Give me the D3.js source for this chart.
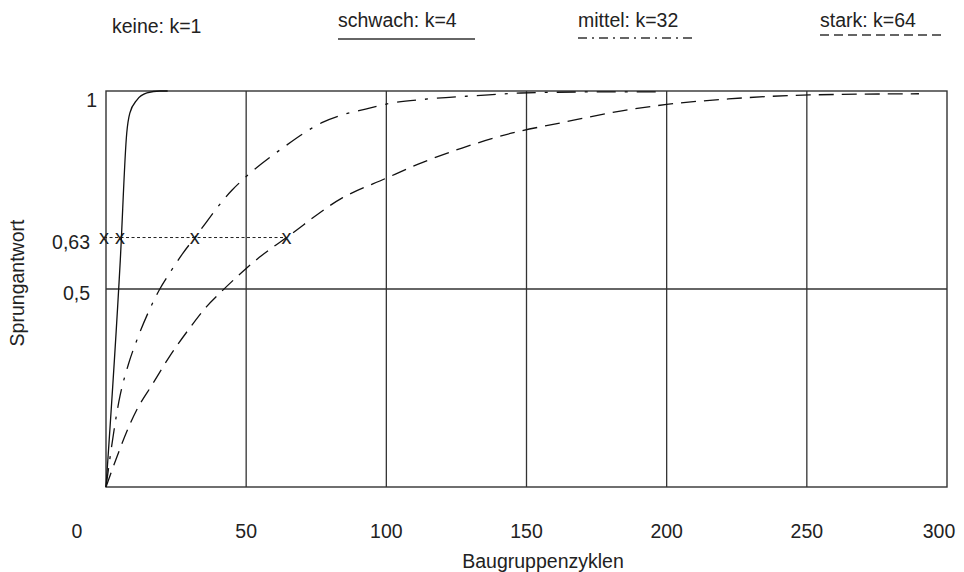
<!DOCTYPE html>
<html lang="de">
<head>
  <meta charset="UTF-8">
  <title>Sprungantwort</title>
  <style>
    body { margin: 0; background: #fff; }
    svg text { font-family: "Liberation Sans", Arial, sans-serif; fill: #222; }
  </style>
</head>
<body>
<div class="chart"></div>
<script src="https://cdn.jsdelivr.net/npm/d3@7/dist/d3.min.js"></script>
<script>
  // series: [Baugruppenzyklen, Sprungantwort]
  const schwach = [[0, 0], [5.1, 0.573], [7.4, 0.894], [8.5, 0.944], [11, 0.977], [14.6, 0.995], [19.2, 1], [22, 1]];
  const mittel = [[0, 0], [5, 0.23], [8, 0.31], [11.5, 0.38], [16, 0.455], [19.2, 0.5], [22.7, 0.54], [27.4, 0.59],
    [31.7, 0.63], [45, 0.75], [49.4, 0.78], [63, 0.856], [77, 0.92], [94, 0.957], [100, 0.967], [115, 0.98],
    [136.5, 0.99], [148, 0.995], [182, 0.998], [199, 0.998]];
  const stark = [[0, 0], [10.9, 0.194], [16.8, 0.262], [22.7, 0.33], [29.3, 0.396], [35.8, 0.455], [41.1, 0.493],
    [49.4, 0.548], [54.7, 0.58], [64.4, 0.63], [84.3, 0.73], [100, 0.78], [113, 0.82], [127, 0.856], [145, 0.894],
    [162.5, 0.92], [184, 0.95], [200, 0.966], [222, 0.98], [251, 0.99], [290, 0.993]];

  const legendNames = ["keine: k=1", "schwach: k=4", "mittel: k=32", "stark: k=64"];
  const markerX = [-0.7, 5, 31.7, 64.4];   // where the "x" marks sit on the 0,63 line
  const markerY = 0.63;
  const xTicks = [0, 50, 100, 150, 200, 250, 300];
  const xGrid = [50, 100, 150, 200, 250];
  const yTicks = [0.5, 0.63, 1];
  const yTickLabels = ["0,5", "0,63", "1"];

  const width = 964, height = 572;
  const plotLeft = 106, plotRight = 947, plotTop = 91, plotBottom = 487;
  const fontSize = 19.5;

  const x = d3.scaleLinear().domain([0, 300]).range([plotLeft, plotRight]);
  const y = d3.scaleLinear().domain([0, 1]).range([plotBottom, plotTop]);

  const svg = d3.select(".chart").append("svg")
    .attr("width", width)
    .attr("height", height);

  // grid
  svg.append("g")
    .selectAll("line")
    .data(xGrid)
    .enter()
    .append("line")
    .attr("x1", d => x(d)).attr("x2", d => x(d))
    .attr("y1", plotTop).attr("y2", plotBottom)
    .attr("stroke", "#333").attr("stroke-width", 1.3);

  svg.append("line")
    .attr("x1", plotLeft).attr("x2", plotRight)
    .attr("y1", y(0.5)).attr("y2", y(0.5))
    .attr("stroke", "#333").attr("stroke-width", 1.3);

  svg.append("rect")
    .attr("x", plotLeft).attr("y", plotTop)
    .attr("width", plotRight - plotLeft).attr("height", plotBottom - plotTop)
    .attr("fill", "none").attr("stroke", "#333").attr("stroke-width", 1.4);

  // 0,63 dotted line with markers
  svg.append("line")
    .attr("x1", x(d3.min(markerX))).attr("x2", x(d3.max(markerX)))
    .attr("y1", y(markerY)).attr("y2", y(markerY))
    .attr("stroke", "#222").attr("stroke-width", 1)
    .attr("stroke-dasharray", "3,2.5");

  svg.append("g")
    .selectAll("text")
    .data(markerX)
    .enter()
    .append("text")
    .attr("x", d => x(d))
    .attr("y", y(markerY) + 6)
    .attr("text-anchor", "middle")
    .attr("font-size", 20)
    .text("x");

  // curves
  const line = d3.line()
    .curve(d3.curveMonotoneX)
    .x(d => x(d[0]))
    .y(d => y(d[1]));

  const series = [
    {data: schwach, dash: null},
    {data: mittel, dash: "19,9,3,9"},
    {data: stark, dash: "15,8"}
  ];

  series.forEach(s => {
    svg.append("path")
      .datum(s.data)
      .attr("d", line)
      .attr("fill", "none")
      .attr("stroke", "#111")
      .attr("stroke-width", 1.3)
      .attr("stroke-dasharray", s.dash);
  });

  // axis labels (first and last nudged inward like the original)
  svg.append("g")
    .selectAll("text")
    .data(xTicks)
    .enter()
    .append("text")
    .attr("x", d => d === 0 ? x(d) - 29 : d === 300 ? x(d) - 8 : x(d))
    .attr("y", 538)
    .attr("text-anchor", "middle")
    .attr("font-size", fontSize)
    .text(d => d);

  svg.append("g")
    .selectAll("text")
    .data(yTicks)
    .enter()
    .append("text")
    .attr("x", d => d === 1 ? 97 : 90)
    .attr("y", d => y(d) + (d === 1 ? 16 : 11))
    .attr("text-anchor", "end")
    .attr("font-size", fontSize)
    .text((d, i) => yTickLabels[i]);

  svg.append("text")
    .attr("x", 543)
    .attr("y", 568)
    .attr("text-anchor", "middle")
    .attr("font-size", fontSize)
    .text("Baugruppenzyklen");

  svg.append("text")
    .attr("transform", "translate(24,283) rotate(-90)")
    .attr("text-anchor", "middle")
    .attr("font-size", fontSize)
    .text("Sprungantwort");

  // legend
  const legendLayout = [
    {x: 112, ty: 33, ly: null, len: 0, dash: null},
    {x: 338, ty: 27, ly: 39, len: 137, dash: null},
    {x: 578, ty: 27, ly: 38, len: 114, dash: "9,5,2,5"},
    {x: 820, ty: 27, ly: 35, len: 123, dash: "9,5"}
  ];

  legendNames.forEach((name, i) => {
    const l = legendLayout[i];
    svg.append("text")
      .attr("x", l.x)
      .attr("y", l.ty)
      .attr("font-size", fontSize)
      .text(name);
    if (l.ly !== null) {
      svg.append("line")
        .attr("x1", l.x).attr("x2", l.x + l.len)
        .attr("y1", l.ly).attr("y2", l.ly)
        .attr("stroke", "#333").attr("stroke-width", 1.3)
        .attr("stroke-dasharray", l.dash);
    }
  });
</script>
</body>
</html>
